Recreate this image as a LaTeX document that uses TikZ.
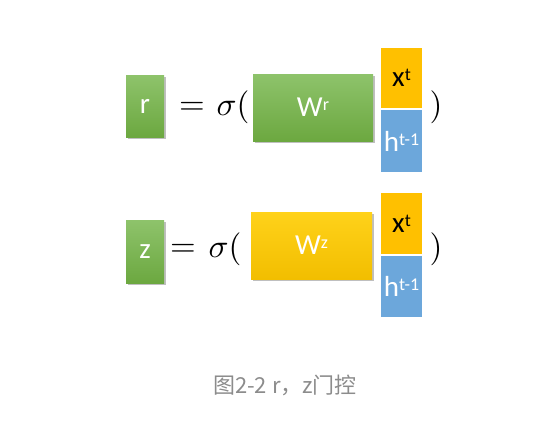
\documentclass[tikz,border=0pt]{standalone}
\usepackage{fontspec}
\setmainfont{Carlito}
\newfontfamily\cjkfont{Noto Sans CJK SC}
\usetikzlibrary{shadows}
\definecolor{grtop}{HTML}{8EC36B}
\definecolor{grbot}{HTML}{6CA840}
\definecolor{yetop}{HTML}{FFD21A}
\definecolor{yebot}{HTML}{F2BE00}
\definecolor{yeflat}{HTML}{FFC000}
\definecolor{blueflat}{HTML}{6CA7DB}
\definecolor{captgray}{HTML}{8C8C8C}
\newcommand{\bigtxt}{\fontsize{29}{29}\selectfont}
\newcommand{\suptxt}[1]{\raisebox{6pt}{\fontsize{18}{18}\selectfont #1}}
\newcommand{\bigmath}[1]{\scalebox{3.3}{$#1$}}
\tikzset{
  x=1pt, y=-1pt,
  boxbase/.style={inner sep=0pt, anchor=center, font=\bigtxt},
  shadowed/.style={drop shadow={shadow xshift=1.5pt, shadow yshift=-2pt, opacity=0.25, fill=black}},
  greenbox/.style={boxbase, top color=grtop, bottom color=grbot, text=white, shadowed},
  yellowbox/.style={boxbase, top color=yetop, bottom color=yebot, text=white, shadowed},
  xbox/.style={boxbase, fill=yeflat, text=black, minimum width=41pt},
  hbox/.style={boxbase, fill=blueflat, text=white, minimum width=41pt},
  mathtxt/.style={inner sep=0pt},
  caption/.style={inner sep=0pt, text=captgray, font=\cjkfont\fontsize{22}{22}\selectfont}
}
\begin{document}
\begin{tikzpicture}
\useasboundingbox (0,0) rectangle (543,420);
\fill[white] (0,0) rectangle (543,420);
% top row
\node[greenbox, minimum width=38pt, minimum height=62pt] (r) at (145,106) {r};
\node[mathtxt] (eq1) at (192,108) {\bigmath{=}};
\node[mathtxt] (sig1) at (233,107) {\bigmath{\sigma(}};
\node[greenbox, minimum width=120pt, minimum height=67pt] (Wr) at (313,107.5) {W\suptxt{r}};
\node[xbox, minimum height=60pt] (xt1) at (401.5,78) {x\suptxt{t}};
\node[hbox, minimum height=62pt] (ht1) at (401.5,141) {h\suptxt{t-1}};
\node[mathtxt] (cp1) at (436,107) {\bigmath{)}};
% bottom row
\node[greenbox, minimum width=38pt, minimum height=63pt] (z) at (145,251.5) {z};
\node[mathtxt] (eq2) at (183,250) {\bigmath{=}};
\node[mathtxt] (sig2) at (225,249) {\bigmath{\sigma(}};
\node[yellowbox, minimum width=121pt, minimum height=67pt] (Wz) at (311.5,245.5) {W\suptxt{z}};
\node[xbox, minimum height=61pt] (xt2) at (401.5,223.5) {x\suptxt{t}};
\node[hbox, minimum height=61pt] (ht2) at (401.5,286.5) {h\suptxt{t-1}};
\node[mathtxt] (cp2) at (436,249) {\bigmath{)}};
% caption
\node[caption] (cap) at (285,385) {图2-2 r，z门控};
\end{tikzpicture}
\end{document}
